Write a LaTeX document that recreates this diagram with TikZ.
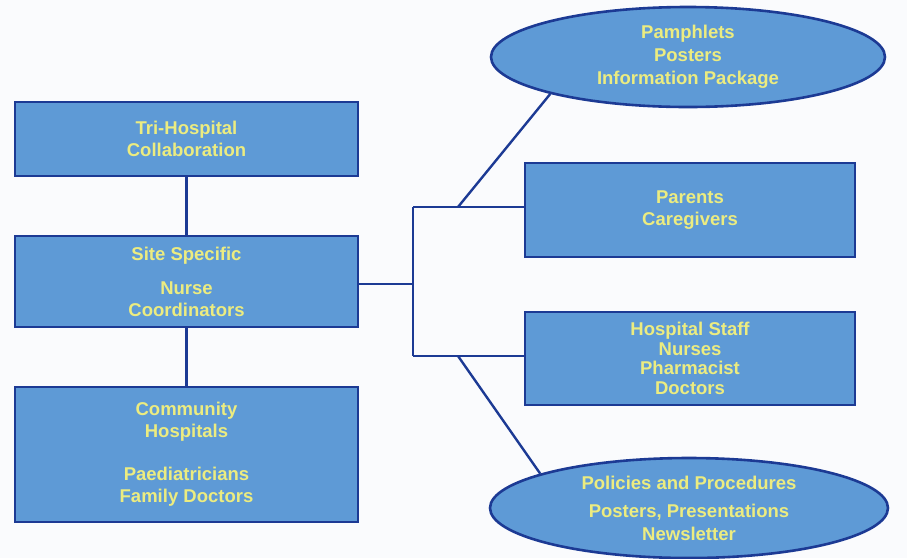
\documentclass[tikz,border=0pt]{standalone}
\usepackage{fontspec}
\setmainfont{Liberation Sans}
\usetikzlibrary{shapes.geometric}
\definecolor{boxfill}{RGB}{94,154,214}
\definecolor{boxline}{RGB}{28,58,148}
\definecolor{txt}{RGB}{236,236,128}
\definecolor{bg}{RGB}{250,251,253}
\tikzset{
  box/.style={draw=boxline, fill=boxfill, line width=2.6pt, rectangle, inner sep=0pt,
    text=txt, font=\bfseries\fontsize{18.5}{22}\selectfont, align=center},
  oval/.style={draw=boxline, fill=boxfill, line width=2.6pt, ellipse, inner sep=0pt,
    text=txt, font=\bfseries\fontsize{18.5}{23}\selectfont, align=center},
  tightbox/.style={box, font=\bfseries\fontsize{18.5}{19.7}\selectfont},
  conn/.style={draw=boxline, line width=2.4pt}
}
\begin{document}
\begin{tikzpicture}[x=1pt,y=-1pt]
\fill[bg] (0,0) rectangle (907,558);
\useasboundingbox (0,0) rectangle (907,558);
% left column
\node[box, minimum width=343, minimum height=74] (tri) at (186.5,139) {Tri-Hospital\\Collaboration};
\node[box, minimum width=343, minimum height=91] (site) at (186.5,281.5) {Site Specific\\[12pt]Nurse\\Coordinators};
\node[box, minimum width=343, minimum height=135] (comm) at (186.5,454.5) {Community\\Hospitals\\[21pt]Paediatricians\\Family Doctors};
% right column
\node[oval, minimum width=394, minimum height=100] (pamph) at (688,57) {Pamphlets\\Posters\\Information Package};
\node[box, minimum width=330, minimum height=94] (parents) at (690,210) {Parents\\Caregivers};
\node[tightbox, minimum width=330, minimum height=93] (staff) at (690,358.5) {Hospital Staff\\Nurses\\Pharmacist\\Doctors};
\node[oval, minimum width=398, minimum height=100] (policy) at (689,508) {Policies and Procedures\\[5pt]Posters, Presentations\\Newsletter};
% connectors
\coordinate (j) at (413,284);
\coordinate (jt) at (413,207);
\coordinate (jb) at (413,356);
\coordinate (dt) at (458,207);
\coordinate (db) at (458,356);
\draw[conn] (tri.south) -- (site.north);
\draw[conn] (site.south) -- (comm.north);
\draw[conn] (site.east |- j) -- (j);
\draw[conn] (jt) -- (jb);
\draw[conn] (jt) -- (parents.west |- jt);
\draw[conn] (jb) -- (staff.west |- jb);
\draw[conn] (dt) -- (pamph.-165);
\draw[conn] (db) -- (policy.167);
\end{tikzpicture}
\end{document}
